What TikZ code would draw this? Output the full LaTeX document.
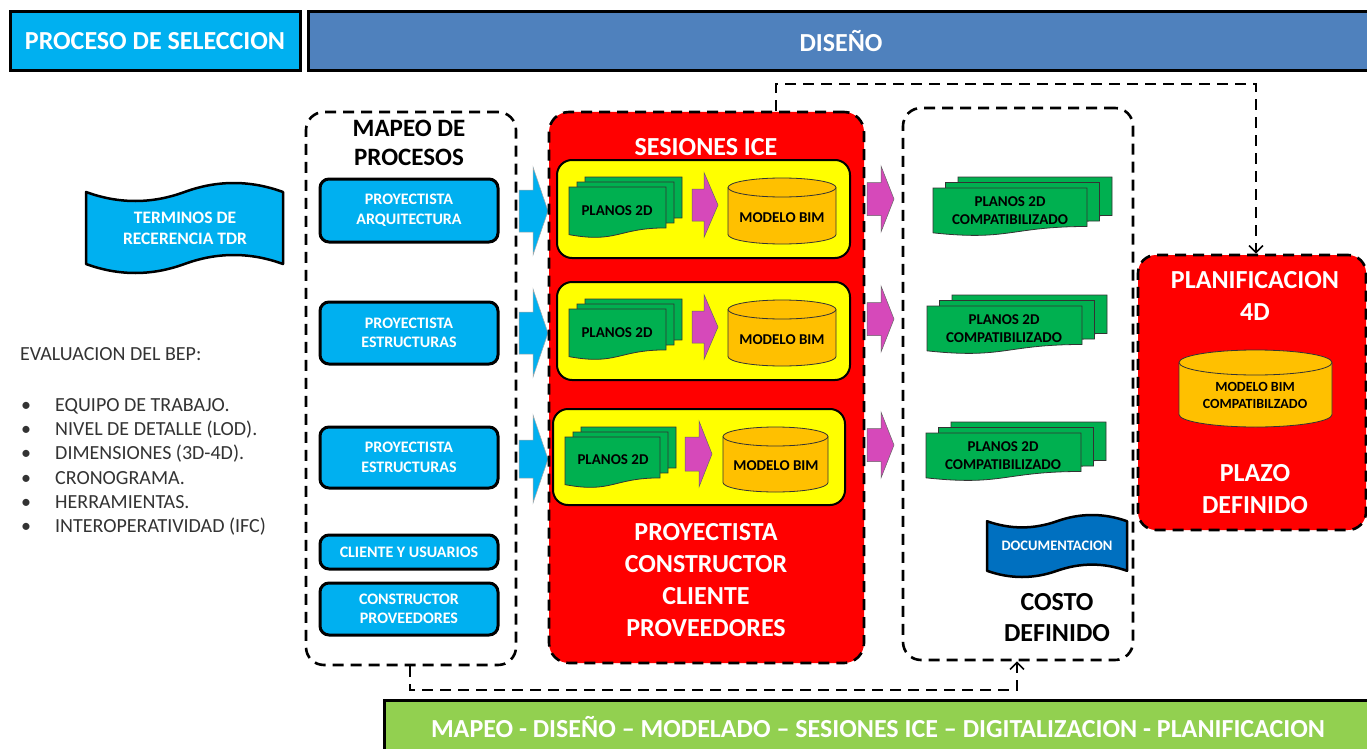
\documentclass[tikz,border=0pt]{standalone}
\usepackage{fontspec}
\setmainfont{Carlito}
\usetikzlibrary{arrows.meta}
\definecolor{cyanC}{HTML}{00B0F0}
\definecolor{hdrBlue}{HTML}{4F81BD}
\definecolor{redC}{HTML}{FF0000}
\definecolor{yelC}{HTML}{FFFF00}
\definecolor{greenD}{HTML}{00B050}
\definecolor{orangeC}{HTML}{FFC000}
\definecolor{magC}{HTML}{D649BA}
\definecolor{bannerG}{HTML}{92D050}
\definecolor{docBlue}{HTML}{0070C0}
\definecolor{textGray}{HTML}{333333}
\newcommand\fsz[2]{\fontsize{#1pt}{#2pt}\selectfont}
\tikzset{
 hdrbox/.style={draw=black, line width=3pt, inner sep=0pt, text=white, font=\bfseries\fsz{26}{32}},
 dashbox/.style={draw=black, line width=2.6pt, dash pattern=on 11pt off 7pt, rounded corners=18pt, inner sep=0pt},
 cyanbox/.style={draw=black, line width=3pt, rounded corners=9pt, fill=cyanC, inner sep=0pt, text=white, font=\bfseries\fsz{16}{19.5}, align=center},
 yelbox/.style={draw=black, line width=2pt, rounded corners=15pt, fill=yelC, inner sep=0pt},
 bigwhite/.style={text=white, font=\bfseries\fsz{26}{32}, align=center, inner sep=0pt},
 bigblack/.style={text=black, font=\bfseries\fsz{25}{30}, align=center, inner sep=0pt},
 smalltxt/.style={text=black, font=\bfseries\fsz{15}{18}, align=center, inner sep=0pt},
 docst/.style={fill=greenD, draw=black!80, line width=0.8pt},
 canst/.style={fill=orangeC, draw=black!80, line width=0.8pt},
 tapecyan/.style={fill=cyanC, draw=black, line width=2.5pt, line join=round},
 tapeblue/.style={fill=docBlue, draw=black, line width=2.5pt, line join=round},
 cyanarrow/.style={fill=cyanC, draw=black!35, line width=0.5pt},
 magarrow/.style={fill=magC, draw=black!60, line width=0.5pt},
 conn/.style={draw=black, line width=2.4pt, dash pattern=on 11pt off 7pt},
 listtxt/.style={text=textGray, font=\fsz{20}{24}, inner sep=0pt, anchor=base west},
}
% half ellipse from (x,y) to (x+2r,y), bulging d (positive = downwards on screen)
\newcommand\halfell[4]{.. controls ({#1},{#2+0.5523*(#4)}) and ({#1+(#3)-0.5523*(#3)},{#2+(#4)}) .. ({#1+(#3)},{#2+(#4)}) .. controls ({#1+(#3)+0.5523*(#3)},{#2+(#4)}) and ({#1+2*(#3)},{#2+0.5523*(#4)}) .. ({#1+2*(#3)},{#2})}
% gentle wave segment from (x,y) to (x+s,y), bulging d
\newcommand\pwave[4]{.. controls ({#1+(#3)/3},{#2+4/3*(#4)}) and ({#1+2*(#3)/3},{#2+4/3*(#4)}) .. ({#1+(#3)},{#2})}
% green document (flowchart document)
\newcommand\onedoc[4]{\filldraw[docst] ({#1},{#2}) -- ({#1+#3},{#2}) -- ({#1+#3},{#2+0.802*#4}) .. controls ({#1+#3/2},{#2+0.802*#4}) and ({#1+#3/2},{#2+1.107*#4}) .. ({#1},{#2+0.934*#4}) -- cycle;}
\newcommand\multidoc[6]{\onedoc{#1+2*#5}{#2-2*#6}{#3}{#4}\onedoc{#1+#5}{#2-#6}{#3}{#4}\onedoc{#1}{#2}{#3}{#4}}
% punched tape: x y w h style
\newcommand\tape[5]{\filldraw[#5] ({#1},{#2+0.1*#4})
  \pwave{#1}{#2+0.1*#4}{#3/2}{#4/10}
  \pwave{#1+#3/2}{#2+0.1*#4}{#3/2}{-#4/10}
  -- ({#1+#3},{#2+0.9*#4})
  \pwave{#1+#3}{#2+0.9*#4}{-#3/2}{-#4/10}
  \pwave{#1+#3/2}{#2+0.9*#4}{-#3/2}{#4/10}
  -- cycle;}
% cylinder: x y w h ry
\newcommand\can[5]{\filldraw[canst] ({#1},{#2+#5}) -- ({#1},{#2+#4-#5})
  \halfell{#1}{#2+#4-#5}{#3/2}{#5}
  -- ({#1+#3},{#2+#5})
  \halfell{#1+#3}{#2+#5}{-#3/2}{-#5} -- cycle;
 \draw[canst,fill=none] ({#1},{#2+#5}) \halfell{#1}{#2+#5}{#3/2}{#5};}
% block arrow: x0 xhead xtip cy bodyhalf headhalf style
\newcommand\barrow[7]{\filldraw[#7] ({#1},{#4-#5}) -- ({#2},{#4-#5}) -- ({#2},{#4-#6}) -- ({#3},{#4}) -- ({#2},{#4+#6}) -- ({#2},{#4+#5}) -- ({#1},{#4+#5}) -- cycle;}
\begin{document}
\begin{tikzpicture}[x=1pt,y=-1pt]
\useasboundingbox (0,0) rectangle (1367,749);
\fill[white] (0,0) rectangle (1367,749);
% headers
\node[hdrbox, fill=cyanC, minimum width=290pt, minimum height=59pt] (sel) at (155,41.5) {PROCESO DE SELECCION};
\node[hdrbox, fill=hdrBlue, minimum width=1100pt, minimum height=59pt] (dis) at (858,41.5) {};
\node[bigwhite] (distxt) at (841,41.5) {DISEÑO};
% TDR
\tape{86}{183}{197}{90}{tapecyan}
\node[text=white, font=\bfseries\fsz{17.5}{21}, align=center, inner sep=0pt] (tdr) at (185,228) {TERMINOS DE\\RECERENCIA TDR};
% evaluation list
\node[listtxt] (evh) at (20,360) {EVALUACION DEL BEP:};
\foreach \t [count=\i from 0] in {EQUIPO DE TRABAJO.,NIVEL DE DETALLE (LOD).,DIMENSIONES (3D-4D).,CRONOGRAMA.,HERRAMIENTAS.,INTEROPERATIVIDAD (IFC)}{
  \node[listtxt] (b\i) at (21,{411.5+24.2*\i}) {•};
  \node[listtxt] (ev\i) at (55,{411.5+24.2*\i}) {\t};
}
% MAPEO
\node[dashbox, minimum width=210pt, minimum height=553pt] (mapeo) at (411,388.5) {};
\node[bigblack, font=\bfseries\fsz{25}{29}] (mapt) at (409,142.5) {MAPEO DE\\PROCESOS};
\node[cyanbox, minimum width=178pt, minimum height=63pt] (cb1) at (409,210.5) {PROYECTISTA\\ARQUITECTURA};
\node[cyanbox, minimum width=178pt, minimum height=62pt] (cb2) at (409,333) {PROYECTISTA\\ESTRUCTURAS};
\node[cyanbox, minimum width=178pt, minimum height=61pt] (cb3) at (409,457.5) {PROYECTISTA\\ESTRUCTURAS};
\node[cyanbox, minimum width=178pt, minimum height=34pt] (cb4) at (409,552) {CLIENTE Y USUARIOS};
\node[cyanbox, minimum width=178pt, minimum height=52pt] (cb5) at (409,609) {CONSTRUCTOR\\PROVEEDORES};
% cyan arrows
\barrow{519}{533}{548}{211}{21}{44}{cyanarrow}
\barrow{519}{533}{548}{333}{21}{44}{cyanarrow}
\barrow{519}{533}{548}{459}{19}{44}{cyanarrow}
% SESIONES ICE
\node[dashbox, fill=redC, rounded corners=20pt, minimum width=315pt, minimum height=551pt] (ses) at (706.5,387.5) {};
\node[bigwhite] (sest) at (706,147) {SESIONES ICE};
\node[yelbox, minimum width=293pt, minimum height=98pt] (y1) at (703.5,209) {};
\node[yelbox, minimum width=293pt, minimum height=98pt] (y2) at (703.5,331) {};
\node[yelbox, minimum width=292pt, minimum height=96pt] (y3) at (699,457) {};
\multidoc{569}{187}{97}{51}{8}{5}
\multidoc{569}{309}{97}{51}{8}{5}
\multidoc{565}{437}{95}{51}{8}{5}
\node[smalltxt] (p1) at (617,211) {PLANOS 2D};
\node[smalltxt] (p2) at (617,333) {PLANOS 2D};
\node[smalltxt] (p3) at (613,460) {PLANOS 2D};
\barrow{692}{704}{718}{205}{16}{32.5}{magarrow}
\barrow{692}{704}{718}{327}{16}{32.5}{magarrow}
\barrow{685}{699}{712}{454}{17}{33}{magarrow}
\can{728}{178}{108}{66}{9.5}
\can{728}{300}{108}{66}{9.5}
\can{723}{427}{105}{65}{9.5}
\node[smalltxt] (m1) at (782,218) {MODELO BIM};
\node[smalltxt] (m2) at (782,340) {MODELO BIM};
\node[smalltxt] (m3) at (776,466) {MODELO BIM};
\node[bigwhite] (actors) at (706,580) {PROYECTISTA\\CONSTRUCTOR\\CLIENTE\\PROVEEDORES};
% magenta arrows between
\barrow{867}{881}{894}{199}{16.5}{33}{magarrow}
\barrow{867}{881}{894}{319}{16.5}{33}{magarrow}
\barrow{867}{881}{894}{445}{16.5}{33}{magarrow}
% COSTO box
\node[dashbox, minimum width=230pt, minimum height=552pt] (costo) at (1018,384) {};
\multidoc{933}{188}{154}{48}{12.5}{5.5}
\multidoc{927}{306}{155}{48}{12.5}{5.5}
\multidoc{926}{433}{155}{48}{12.5}{5.5}
\node[smalltxt] (c1t) at (1010,211) {PLANOS 2D\\COMPATIBILIZADO};
\node[smalltxt] (c2t) at (1004,329) {PLANOS 2D\\COMPATIBILIZADO};
\node[smalltxt] (c3t) at (1003,456) {PLANOS 2D\\COMPATIBILIZADO};
\tape{987}{515}{140}{62}{tapeblue}
\node[text=white, font=\bfseries\fsz{14.5}{17}, inner sep=0pt] (docu) at (1057,546) {DOCUMENTACION};
\node[bigblack, font=\bfseries\fsz{26}{31}] (cost) at (1057,617.5) {COSTO\\DEFINIDO};
% PLANIFICACION
\node[dashbox, fill=redC, minimum width=228pt, minimum height=275pt] (plan) at (1252,392.5) {};
\node[bigwhite] (plant) at (1255,296) {PLANIFICACION\\4D};
\can{1179}{350}{153}{77}{12.5}
\node[smalltxt, font=\bfseries\fsz{14}{17}] (mbc) at (1255,395) {MODELO BIM\\COMPATIBILZADO};
\node[bigwhite] (plazo) at (1255,489) {PLAZO\\DEFINIDO};
% connectors
\coordinate (t1) at (776,84);
\coordinate (t2) at (1256,84);
\draw[conn, -{Straight Barb[length=7pt,width=14pt,line width=1.6pt]}] (t1 |- ses.north) -- (t1) -- (t2) -- (t2 |- plan.north);
\coordinate (bb1) at (410,690);
\coordinate (bb2) at (1017,690);
\draw[conn, -{Straight Barb[length=7pt,width=14pt,line width=1.6pt]}] (bb1 |- mapeo.south) -- (bb1) -- (bb2) -- (bb2 |- costo.south);
% banner
\node[draw=black, line width=3pt, fill=bannerG, minimum width=1016pt, minimum height=70pt, inner sep=0pt] (ban) at (892,735) {};
\node[bigwhite] (bant) at (878,727) {MAPEO - DISEÑO – MODELADO – SESIONES ICE – DIGITALIZACION - PLANIFICACION};
\end{tikzpicture}
\end{document}
